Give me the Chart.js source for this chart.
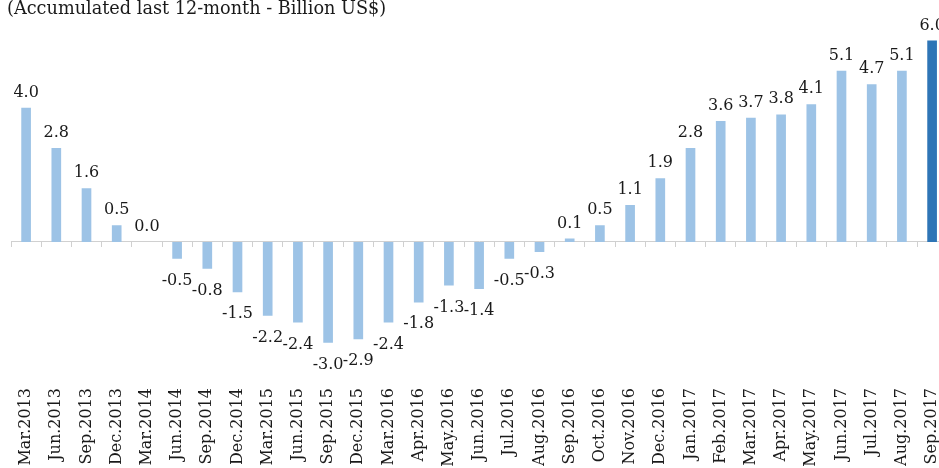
<!DOCTYPE html>
<html>
<head>
<meta charset="utf-8">
<script src="https://cdn.jsdelivr.net/npm/chart.js@4.4.1/dist/chart.umd.min.js"></script>
<style>
  html, body { margin: 0; padding: 0; background: #fff; overflow: hidden; }
  #wrap { position: relative; width: 939px; height: 468px; overflow: hidden; }
  #title { position: absolute; left: 7px; top: -2px; font: 17.7px "DejaVu Serif"; color: #1a1a1a; white-space: nowrap; }
  canvas { position: absolute; left: 0; top: 0; }
</style>
</head>
<body>
<div id="wrap">
  <canvas id="chart" width="960" height="480"></canvas>
  <div id="title">(Accumulated last 12-month - Billion US$)</div>
</div>
<script>
/* global Chart */

const labels = [
    "Mar.2013", "Jun.2013", "Sep.2013", "Dec.2013", "Mar.2014", "Jun.2014", "Sep.2014", "Dec.2014",
    "Mar.2015", "Jun.2015", "Sep.2015", "Dec.2015", "Mar.2016", "Apr.2016", "May.2016", "Jun.2016",
    "Jul.2016", "Aug.2016", "Sep.2016", "Oct.2016", "Nov.2016", "Dec.2016", "Jan.2017", "Feb.2017",
    "Mar.2017", "Apr.2017", "May.2017", "Jun.2017", "Jul.2017", "Aug.2017", "Sep.2017"
];
const values = [
    4.0, 2.8, 1.6, 0.5, 0.0, -0.5, -0.8, -1.5,
    -2.2, -2.4, -3.0, -2.9, -2.4, -1.8, -1.3, -1.4,
    -0.5, -0.3, 0.1, 0.5, 1.1, 1.9, 2.8, 3.6,
    3.7, 3.8, 4.1, 5.1, 4.7, 5.1, 6.0
];
const highlighted = "Sep.2017";

const lightBlue = "#9dc3e6";
const darkBlue = "#2e75b6";
const textColor = "#1a1a1a";
const serif = "DejaVu Serif";

// value printed above positive bars, below negative ones
const valueLabels = {
    id: "valueLabels",
    afterDatasetsDraw(chart) {
        let ctx = chart.ctx;
        let meta = chart.getDatasetMeta(0);
        ctx.save();
        ctx.font = "16px '" + serif + "'";
        ctx.fillStyle = textColor;
        ctx.textAlign = "center";
        ctx.textBaseline = "alphabetic";
        meta.data.forEach((bar, i) => {
            let v = values[i];
            let y = v < 0 ? bar.y + 26 : bar.y - 11;
            ctx.fillText(v.toFixed(1), bar.x, y);
        });
        ctx.restore();
    }
};

new Chart(document.getElementById("chart"), {
    type: "bar",
    data: {
        labels: labels,
        datasets: [{
            data: values,
            backgroundColor: labels.map(l => l === highlighted ? darkBlue : lightBlue),
            barPercentage: 0.32,
            categoryPercentage: 1
        }]
    },
    options: {
        responsive: false,
        animation: false,
        devicePixelRatio: 1,
        layout: { padding: { left: 11, right: 12.8, top: 20.4, bottom: 0 } },
        plugins: {
            legend: { display: false },
            tooltip: { enabled: false }
        },
        scales: {
            x: {
                position: "bottom",
                offset: true,
                grid: { display: false, drawTicks: false },
                border: { display: false },
                ticks: {
                    autoSkip: false,
                    minRotation: 90,
                    maxRotation: 90,
                    padding: 3,
                    color: textColor,
                    font: { family: serif, size: 16 }
                },
                afterFit: s => {
                    s.height = 95;
                    s.paddingLeft = 0;
                    s.paddingRight = 0;
                }
            },
            xZero: {
                type: "category",
                axis: "x",
                position: { y: 0 },
                offset: true,
                grid: { offset: true, drawOnChartArea: false, drawTicks: true, tickLength: 5, color: "#d0d0d0" },
                border: { display: true, color: "#d0d0d0" },
                ticks: { display: false }
            },
            y: { display: false, min: -4.26, max: 6.6 }
        }
    },
    plugins: [valueLabels]
});
</script>
</body>
</html>
